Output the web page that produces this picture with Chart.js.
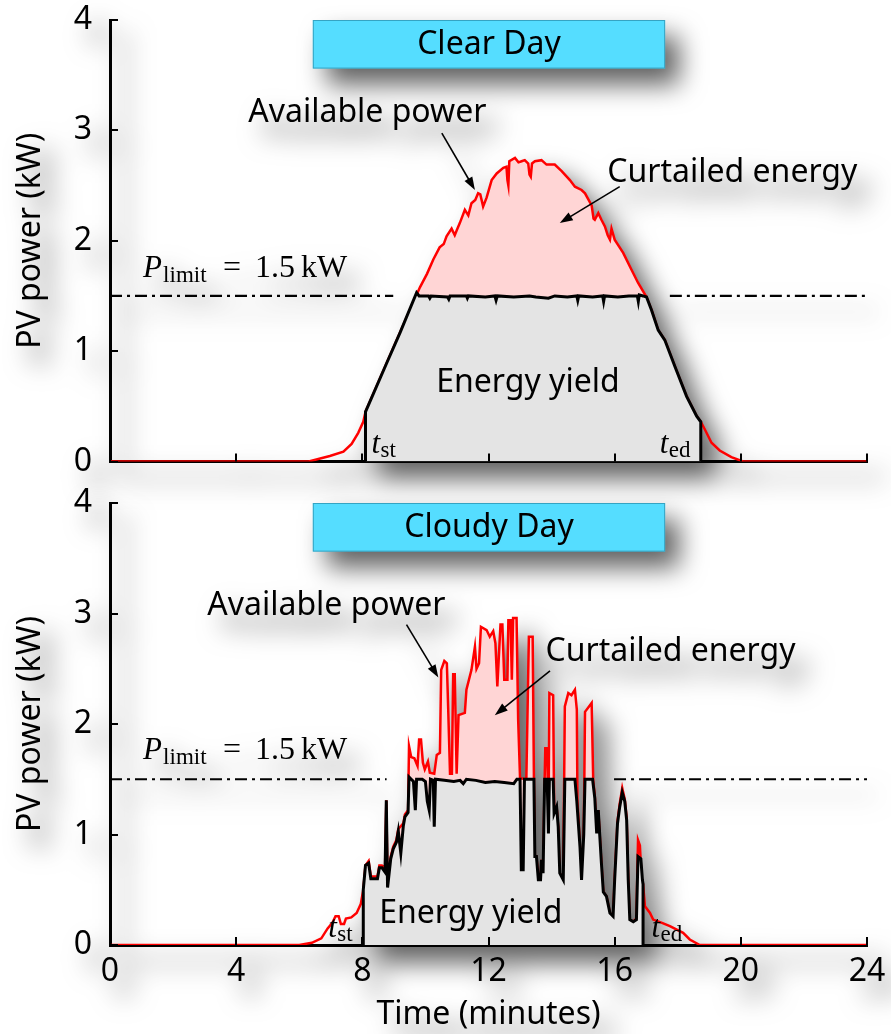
<!DOCTYPE html>
<html>
<head>
<meta charset="utf-8">
<script src="https://cdn.jsdelivr.net/npm/chart.js@4.4.0/dist/chart.umd.min.js"></script>
<style>
  html, body { margin: 0; padding: 0; background: #fff; }
  .panel { position: absolute; left: 0; width: 891px; }
  #top { top: 0; height: 484px; }
  #bottom { top: 484px; height: 550px; }
  canvas { filter: drop-shadow(14px 16px 13px rgba(0, 0, 0, 0.62)); }
</style>
</head>
<body>
<div class="panel" id="top"><canvas id="clearChart"></canvas></div>
<div class="panel" id="bottom"><canvas id="cloudyChart"></canvas></div>
<script>
// ---- clear day ----
const clearAvailTime = [0, 6.3, 6.97, 7.4, 7.66, 7.87, 8.03, 8.1, 8.77, 9.2, 9.72, 9.83, 10.05, 10.25, 10.45, 10.58, 10.67, 10.83, 10.93, 11.0, 11.09, 11.25, 11.36, 11.46, 11.58, 11.67, 11.74, 11.83, 11.94, 12.1, 12.26, 12.47, 12.57, 12.6, 12.63, 12.66, 12.84, 12.95, 13.05, 13.15, 13.26, 13.3, 13.34, 13.38, 13.47, 13.68, 13.84, 14.1, 14.32, 14.58, 14.74, 14.95, 15.06, 15.27, 15.33, 15.37, 15.48, 15.58, 15.69, 15.78, 15.85, 15.9, 16.0, 16.27, 16.53, 16.74, 17.01, 17.17, 17.38, 17.59, 17.91, 18.28, 18.6, 18.73, 18.86, 19.07, 19.33, 19.7, 20.07, 24];
const clearAvailPower = [0, 0, 0.05, 0.09, 0.16, 0.26, 0.36, 0.45, 0.89, 1.17, 1.51, 1.58, 1.7, 1.83, 1.94, 1.97, 2.04, 2.11, 2.05, 2.1, 2.16, 2.28, 2.23, 2.34, 2.37, 2.43, 2.42, 2.31, 2.39, 2.55, 2.61, 2.66, 2.67, 2.55, 2.5, 2.72, 2.75, 2.71, 2.72, 2.73, 2.7, 2.6, 2.58, 2.7, 2.72, 2.73, 2.69, 2.69, 2.63, 2.55, 2.49, 2.46, 2.43, 2.32, 2.2, 2.19, 2.25, 2.19, 2.13, 2.05, 2.01, 2.11, 2.01, 1.89, 1.74, 1.62, 1.49, 1.37, 1.19, 1.1, 0.86, 0.59, 0.41, 0.36, 0.29, 0.17, 0.1, 0.04, 0, 0];
const clearOutTime = [8.1, 8.1, 8.77, 9.2, 9.72, 9.8, 10.1, 10.14, 10.18, 10.7, 10.74, 10.78, 11.3, 11.33, 11.36, 11.9, 12.2, 12.24, 12.28, 12.8, 13.3, 13.5, 13.9, 14.1, 14.5, 14.8, 14.83, 14.86, 15.3, 15.62, 15.65, 15.68, 16.1, 16.45, 16.72, 16.75, 16.78, 16.9, 17.01, 17.17, 17.38, 17.59, 17.91, 18.28, 18.6, 18.73, 18.73];
const clearOutPower = [0, 0.45, 0.89, 1.17, 1.53, 1.5, 1.5, 1.48, 1.5, 1.49, 1.47, 1.5, 1.5, 1.48, 1.5, 1.49, 1.5, 1.46, 1.5, 1.49, 1.5, 1.49, 1.48, 1.5, 1.49, 1.5, 1.46, 1.5, 1.49, 1.5, 1.45, 1.5, 1.49, 1.5, 1.5, 1.45, 1.51, 1.5, 1.49, 1.37, 1.19, 1.1, 0.86, 0.59, 0.41, 0.36, 0];
const clearLimitTime = [0, 8.98, 13, 17.75, 24];
const clearLimitPower = [1.5, 1.5, null, 1.5, 1.5];

// ---- cloudy day ----
const cloudyAvailTime = [0, 6.0, 6.4, 6.7, 6.9, 7.05, 7.15, 7.25, 7.32, 7.42, 7.48, 7.65, 7.82, 7.95, 8.03, 8.1, 8.2, 8.27, 8.48, 8.54, 8.62, 8.72, 8.76, 8.8, 8.9, 8.98, 9.08, 9.14, 9.3, 9.35, 9.45, 9.48, 9.55, 9.65, 9.75, 9.8, 9.86, 9.92, 9.98, 10.08, 10.14, 10.28, 10.36, 10.46, 10.5, 10.6, 10.68, 10.72, 10.78, 10.84, 10.88, 10.93, 10.99, 11.05, 11.25, 11.3, 11.46, 11.57, 11.62, 11.7, 11.76, 11.94, 12.04, 12.15, 12.22, 12.28, 12.38, 12.44, 12.5, 12.6, 12.63, 12.7, 12.74, 12.78, 12.89, 12.94, 13.0, 13.2, 13.28, 13.4, 13.44, 13.47, 13.52, 13.58, 13.65, 13.68, 13.73, 13.78, 13.8, 13.86, 13.9, 13.93, 14.05, 14.08, 14.16, 14.21, 14.26, 14.37, 14.42, 14.53, 14.63, 14.74, 14.8, 14.82, 14.9, 14.95, 15.02, 15.06, 15.27, 15.32, 15.37, 15.43, 15.48, 15.58, 15.64, 15.74, 15.85, 15.95, 16.0, 16.09, 16.16, 16.24, 16.32, 16.38, 16.43, 16.48, 16.59, 16.69, 16.74, 16.8, 16.85, 16.9, 16.96, 17.12, 17.22, 17.5, 17.75, 18.17, 18.38, 18.7, 24];
const cloudyAvailPower = [0, 0, 0.02, 0.06, 0.15, 0.2, 0.26, 0.26, 0.19, 0.19, 0.24, 0.25, 0.29, 0.37, 0.5, 0.72, 0.76, 0.62, 0.62, 0.72, 0.72, 0.7, 1.31, 0.54, 0.8, 0.89, 0.95, 1.05, 1.1, 1.18, 1.22, 1.8, 1.7, 1.69, 1.62, 1.86, 1.86, 1.65, 1.59, 1.66, 1.56, 1.55, 1.72, 1.74, 2.49, 2.57, 2.55, 2.16, 1.55, 1.55, 2.45, 2.45, 1.55, 2.08, 2.1, 2.31, 2.49, 2.7, 2.5, 2.55, 2.88, 2.85, 2.79, 2.84, 2.73, 2.34, 2.9, 2.9, 2.4, 2.4, 2.94, 2.94, 2.4, 2.96, 2.96, 2.04, 1.51, 1.5, 2.79, 2.79, 1.52, 0.8, 0.8, 0.59, 0.59, 0.77, 0.65, 1.5, 1.78, 1.78, 1.01, 2.28, 2.26, 1.25, 1.25, 1.07, 0.65, 0.59, 2.16, 2.28, 2.26, 2.31, 2.13, 1.3, 0.89, 0.59, 1.0, 2.11, 2.19, 1.49, 1.35, 1.01, 1.22, 0.74, 0.48, 0.44, 0.29, 0.26, 0.6, 1.12, 1.28, 1.42, 1.32, 1.15, 0.6, 0.23, 0.21, 0.24, 0.95, 0.9, 0.62, 0.55, 0.35, 0.29, 0.23, 0.2, 0.17, 0.11, 0.05, 0, 0];
const cloudyOutTime = [8.03, 8.03, 8.1, 8.2, 8.27, 8.48, 8.54, 8.62, 8.72, 8.76, 8.8, 8.9, 8.98, 9.08, 9.14, 9.22, 9.3, 9.35, 9.45, 9.48, 9.55, 9.62, 9.68, 9.72, 9.9, 10.0, 10.06, 10.12, 10.16, 10.25, 10.28, 10.32, 10.6, 10.9, 11.1, 11.2, 11.3, 11.6, 11.9, 12.2, 12.5, 12.8, 12.9, 13.0, 13.04, 13.1, 13.14, 13.44, 13.47, 13.52, 13.58, 13.65, 13.68, 13.73, 13.78, 13.86, 13.9, 13.93, 14.05, 14.08, 14.16, 14.21, 14.26, 14.37, 14.42, 14.74, 14.8, 14.9, 14.95, 15.02, 15.06, 15.3, 15.37, 15.43, 15.48, 15.58, 15.64, 15.74, 15.85, 15.95, 16.0, 16.09, 16.16, 16.24, 16.32, 16.38, 16.43, 16.48, 16.59, 16.69, 16.74, 16.83, 16.88, 16.9, 16.9];
const cloudyOutPower = [0, 0.5, 0.72, 0.74, 0.6, 0.6, 0.7, 0.7, 0.66, 1.31, 0.52, 0.78, 0.87, 0.93, 1.03, 0.83, 1.08, 1.16, 1.2, 1.52, 1.5, 1.48, 1.22, 1.5, 1.5, 1.48, 1.3, 1.22, 1.5, 1.49, 1.07, 1.5, 1.49, 1.48, 1.49, 1.46, 1.5, 1.49, 1.47, 1.48, 1.47, 1.46, 1.5, 1.5, 0.68, 0.68, 1.5, 1.5, 0.8, 0.8, 0.59, 0.59, 0.77, 0.65, 1.5, 1.5, 1.01, 1.5, 1.5, 1.19, 1.25, 1.07, 0.65, 0.59, 1.5, 1.5, 1.3, 0.89, 0.59, 1.0, 1.5, 1.5, 1.33, 1.01, 1.22, 0.74, 0.48, 0.44, 0.29, 0.26, 0.59, 1.1, 1.25, 1.38, 1.3, 1.13, 0.59, 0.23, 0.21, 0.23, 0.8, 0.78, 0.59, 0.55, 0];
const cloudyLimitTime = [0, 8.77, 12, 15.98, 24];
const cloudyLimitPower = [1.5, 1.5, null, 1.5, 1.5];

const xTicks = [0, 4, 8, 12, 16, 20, 24];

const pts = (xs, ys) => xs.map((x, i) => ({ x: x, y: ys[i] }));

Chart.defaults.font.family = '"Noto Sans", sans-serif';
Chart.defaults.color = '#000';

// text, arrows, boxes and inward tick marks
const notesPlugin = {
  id: 'notes',
  afterDatasetsDraw(chart, args, opts) {
    const ctx = chart.ctx;
    const xs = chart.scales.x, ys = chart.scales.y;
    const X = v => xs.getPixelForValue(v), Y = v => ys.getPixelForValue(v);
    ctx.save();
    // title box
    const b = opts.box;
    ctx.fillStyle = '#55ddff';
    ctx.fillRect(X(b.x0), Y(b.y1), X(b.x1) - X(b.x0), Y(b.y0) - Y(b.y1));
    ctx.strokeStyle = 'rgba(40,140,170,0.7)';
    ctx.lineWidth = 1;
    ctx.strokeRect(X(b.x0) + 0.5, Y(b.y1) + 0.5, X(b.x1) - X(b.x0) - 1, Y(b.y0) - Y(b.y1) - 1);
    ctx.fillStyle = '#000';
    ctx.font = '32px "Noto Sans"';
    ctx.textAlign = 'center';
    ctx.textBaseline = 'middle';
    ctx.fillText(b.label, (X(b.x0) + X(b.x1)) / 2, (Y(b.y0) + Y(b.y1)) / 2 + 1);

    // plain labels
    ctx.textBaseline = 'alphabetic';
    ctx.font = '32px "Noto Sans"';
    opts.texts.forEach(t => ctx.fillText(t.t, X(t.x), Y(t.y)));

    // serif labels
    ctx.textAlign = 'left';
    opts.tex.forEach(t => {
      t.parts.forEach(p => {
        ctx.font = (p.it ? 'italic ' : '') + p.size + 'px "Liberation Serif"';
        ctx.fillText(p.s, X(t.x) + p.dx, Y(t.y) + (p.dy || 0));
      });
    });

    // arrows
    ctx.strokeStyle = '#000';
    ctx.fillStyle = '#000';
    ctx.lineWidth = 1.6;
    opts.arrows.forEach(a => {
      const x0 = X(a[0]), y0 = Y(a[1]), x1 = X(a[2]), y1 = Y(a[3]);
      const ang = Math.atan2(y1 - y0, x1 - x0);
      const hl = 13, hw = 4.5;
      ctx.beginPath();
      ctx.moveTo(x0, y0);
      ctx.lineTo(x1 - hl * 0.8 * Math.cos(ang), y1 - hl * 0.8 * Math.sin(ang));
      ctx.stroke();
      ctx.beginPath();
      ctx.moveTo(x1, y1);
      ctx.lineTo(x1 - hl * Math.cos(ang) + hw * Math.sin(ang), y1 - hl * Math.sin(ang) - hw * Math.cos(ang));
      ctx.lineTo(x1 - hl * Math.cos(ang) - hw * Math.sin(ang), y1 - hl * Math.sin(ang) + hw * Math.cos(ang));
      ctx.closePath();
      ctx.fill();
    });
    ctx.restore();
  },
  afterDraw(chart) {
    const ctx = chart.ctx;
    const xs = chart.scales.x, ys = chart.scales.y;
    const a = chart.chartArea;
    ctx.save();
    ctx.strokeStyle = '#000';
    ctx.lineWidth = 2;
    ctx.beginPath();
    xTicks.forEach(v => {
      const px = Math.round(xs.getPixelForValue(v));
      ctx.moveTo(px, a.bottom);
      ctx.lineTo(px, a.bottom - 8);
    });
    [0, 1, 2, 3, 4].forEach(v => {
      const py = Math.round(ys.getPixelForValue(v));
      ctx.moveTo(a.left, py);
      ctx.lineTo(a.left + 8, py);
    });
    ctx.stroke();
    ctx.restore();
  }
};

function limitLabel(y) {
  return {
    x: 1.05, y: y, parts: [
      { s: 'P', it: true, size: 31, dx: 0 },
      { s: 'limit', size: 23, dx: 20, dy: 5 },
      { s: '=', size: 32, dx: 80 },
      { s: '1.5', size: 32, dx: 112 },
      { s: 'kW', size: 32, dx: 158 }
    ]
  };
}
function tLabel(x, y, sub) {
  return {
    x: x, y: y, parts: [
      { s: 't', it: true, size: 31, dx: 0 },
      { s: sub, size: 23, dx: 9, dy: 4 }
    ]
  };
}

function makeChart(id, avail, out, limit, showX, padTop, notes) {
  return new Chart(document.getElementById(id), {
    type: 'line',
    data: {
      datasets: [
        { label: 'Output', data: out, borderColor: '#000', borderWidth: 3, backgroundColor: '#e4e4e4',
          fill: 'origin', pointRadius: 0, tension: 0 },
        { label: 'Available', data: avail, borderColor: '#ff0000', borderWidth: 2.5,
          fill: { target: 0, above: '#ffd5d5', below: 'rgba(0,0,0,0)' }, pointRadius: 0, tension: 0 },
        { label: 'Limit', data: limit, borderColor: '#000', borderWidth: 2.2, borderDash: [12, 5, 3, 5],
          fill: false, pointRadius: 0, spanGaps: false }
      ]
    },
    options: {
      responsive: true,
      maintainAspectRatio: false,
      animation: false,
      events: [],
      layout: { padding: { left: 0, right: 24, top: padTop, bottom: 0 } },
      plugins: { legend: { display: false }, tooltip: { enabled: false }, notes: notes },
      scales: {
        x: {
          type: 'linear', min: 0, max: 24, z: 1,
          ticks: { stepSize: 4, display: showX, padding: 8, font: { size: 32 } },
          grid: { display: false, drawTicks: false },
          border: { display: true, color: '#000', width: 3 },
          title: { display: showX, text: 'Time (minutes)', font: { size: 32 }, padding: { top: 0, bottom: 0 } },
          afterFit: s => { s.height = showX ? 89 : 22.5; s.paddingLeft = 0; s.paddingRight = 0; }
        },
        y: {
          min: 0, max: 4, z: 1,
          ticks: { stepSize: 1, padding: 18, font: { size: 32 } },
          grid: { display: false, drawTicks: false },
          border: { display: true, color: '#000', width: 3 },
          title: { display: true, text: 'PV power (kW)', font: { size: 32 }, padding: { top: 12, bottom: 0 } },
          afterFit: s => { s.width = 110; s.paddingTop = 0; s.paddingBottom = 0; }
        }
      }
    },
    plugins: [notesPlugin]
  });
}

makeChart('clearChart',
  pts(clearAvailTime, clearAvailPower), pts(clearOutTime, clearOutPower), pts(clearLimitTime, clearLimitPower),
  false, 20, {
    box: { x0: 6.43, x1: 17.6, y0: 3.56, y1: 4.0, label: 'Clear Day' },
    texts: [
      { t: 'Available power', x: 8.16, y: 3.075 },
      { t: 'Curtailed energy', x: 19.73, y: 2.53 },
      { t: 'Energy yield', x: 13.25, y: 0.63 }
    ],
    arrows: [[10.52, 2.975, 11.57, 2.46], [16.16, 2.49, 14.26, 2.16]],
    tex: [limitLabel(1.67), tLabel(8.29, 0.075, 'st'), tLabel(17.43, 0.075, 'ed')]
  });

makeChart('cloudyChart',
  pts(cloudyAvailTime, cloudyAvailPower), pts(cloudyOutTime, cloudyOutPower), pts(cloudyLimitTime, cloudyLimitPower),
  true, 19, {
    box: { x0: 6.43, x1: 17.6, y0: 3.56, y1: 4.0, label: 'Cloudy Day' },
    texts: [
      { t: 'Available power', x: 6.86, y: 2.99 },
      { t: 'Curtailed energy', x: 17.77, y: 2.57 },
      { t: 'Energy yield', x: 11.44, y: 0.2 }
    ],
    arrows: [[9.4, 2.9, 10.41, 2.42], [13.95, 2.48, 12.2, 2.08]],
    tex: [limitLabel(1.68), tLabel(6.92, 0.075, 'st'), tLabel(17.17, 0.075, 'ed')]
  });
</script>
</body>
</html>
